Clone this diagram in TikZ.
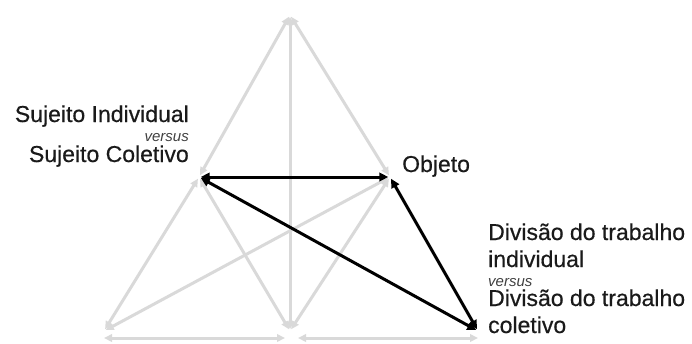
\documentclass[tikz,border=0pt]{standalone}
\usepackage{fontspec}
\setmainfont{Liberation Sans}
\newfontfamily\lblfont{Liberation Sans}[FakeBold=0.5]
\usepackage{tikz}
\usetikzlibrary{arrows.meta, positioning, calc}
\usepackage{xcolor}
\definecolor{linegray}{HTML}{D9D9D9}
\definecolor{textdark}{HTML}{1A1A1A}

\begin{document}
\begin{tikzpicture}[
    x=1pt, y=-1pt,
    vertex/.style={inner sep=0pt, minimum size=3pt},
    lbl/.style={inner sep=0pt, text=textdark, font=\lblfont\fontsize{23}{27}\selectfont},
    vs/.style={inner sep=0pt, text=black!75, font=\fontsize{15}{18}\selectfont\itshape},
    garr/.style={{Triangle[length=8pt, width=7.5pt]}-{Triangle[length=8pt, width=7.5pt]}, line width=3pt, draw=linegray},
    barr/.style={{Triangle[length=9pt, width=8.5pt]}-{Triangle[length=9pt, width=8.5pt]}, line width=3pt, draw=black}
]
\useasboundingbox (0,0) rectangle (692,343);

\node[vertex] (instrumento) at (290,15) {};
\node[vertex] (sujeito) at (199,177) {};
\node[vertex] (objeto) at (390,177) {};
\node[vertex] (regras) at (104,331) {};
\node[vertex] (comunidade) at (290,331) {};
\node[vertex] (divisao) at (478,331) {};

\node[lbl, anchor=base east] (sujcol) at ([xshift=-10pt, yshift=15pt]sujeito) {Sujeito Coletivo};
\node[vs, anchor=base east] (versusA) at ([yshift=21pt]sujcol.base east) {versus};
\node[lbl, anchor=base east] (sujind) at ([yshift=19pt]versusA.base east) {Sujeito Individual};

\node[lbl, anchor=base west] (objlbl) at ([xshift=12pt, yshift=5pt]objeto) {Objeto};

\node[lbl, anchor=base west] (divcol) at ([xshift=10pt, yshift=-2pt]divisao) {coletivo};
\node[lbl, anchor=base west] (divB) at ([yshift=27pt]divcol.base west) {Divisão do trabalho};
\node[vs, anchor=base west] (versusB) at ([yshift=20pt]divB.base west) {versus};
\node[lbl, anchor=base west] (divind) at ([yshift=19pt]versusB.base west) {individual};
\node[lbl, anchor=base west] (divA) at ([yshift=27pt]divind.base west) {Divisão do trabalho};

\draw[garr] (sujeito) -- (instrumento);
\draw[garr] (objeto) -- (instrumento);
\draw[garr] (comunidade) -- (instrumento);
\draw[garr] (sujeito) -- (regras);
\draw[garr] (sujeito) -- (comunidade);
\draw[garr] (objeto) -- (comunidade);
\draw[garr] (objeto) -- (regras);
\draw[garr] ([yshift=-7pt]regras.center) -- ([xshift=-5pt, yshift=-7pt]comunidade.center);
\draw[garr] ([xshift=8pt, yshift=-7pt]comunidade.center) -- ([yshift=-7pt]divisao.center);

\draw[barr] (sujeito) -- (objeto);
\draw[barr] (sujeito) -- (divisao);
\draw[barr] (objeto) -- (divisao);

\end{tikzpicture}
\end{document}
